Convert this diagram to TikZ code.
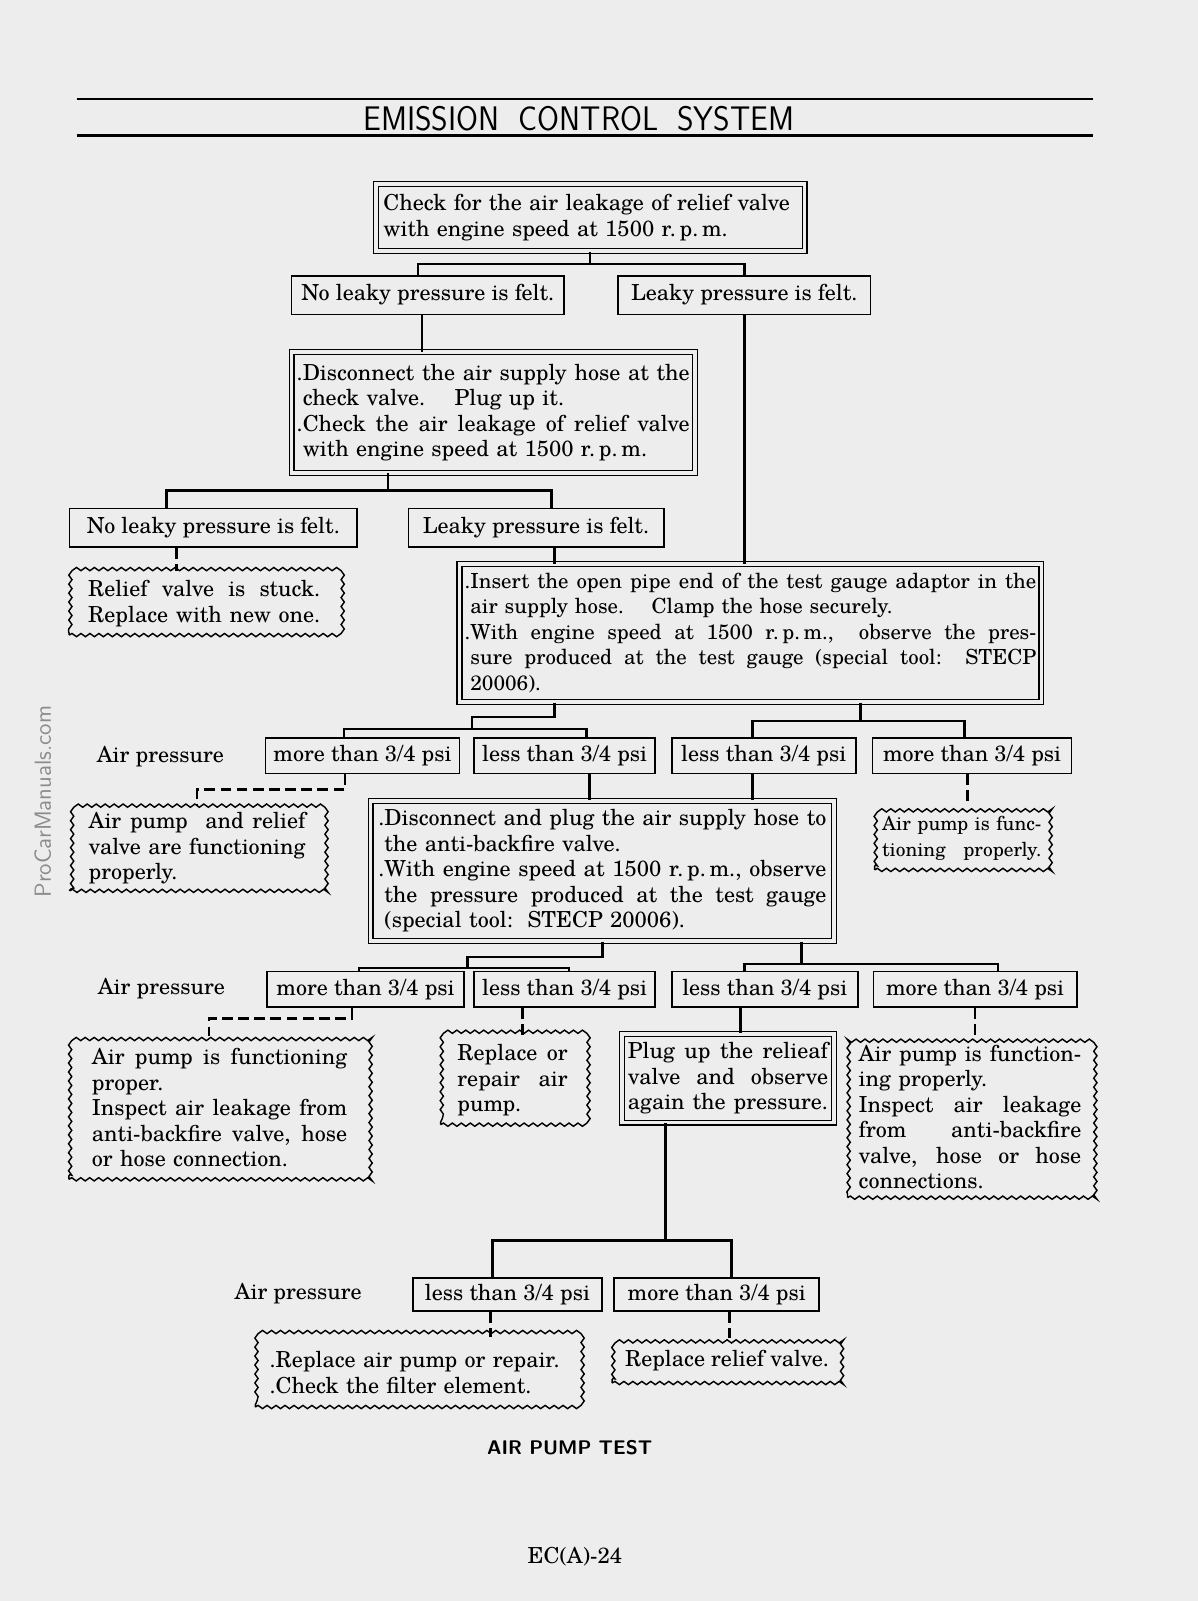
\documentclass[tikz,border=0pt]{standalone}
\usepackage{fontspec}
\setmainfont{TeX Gyre Schola}
\usepackage{graphicx}
\usepackage{tikz}
\usetikzlibrary{decorations.pathmorphing,calc}
\definecolor{paper}{gray}{0.93}
\newcommand\bxfont{\fontsize{12.3}{14.2}\selectfont}
\newlength\jw
\newcommand\jl[1]{\makebox[\jw][s]{\spaceskip=\fontdimen2\font plus 1fil minus \fontdimen4\font\relax#1}}

\begin{document}
\begin{tikzpicture}[x=0.02cm,y={(0,-0.02cm)},
  tw/.style={text width=#1,execute at begin node={\setlength\jw{#1}}},
  box/.style={draw,line width=1pt,inner sep=0pt,font=\bxfont},
  dbox/.style={draw,line width=.7pt,double=paper,double distance=2pt,
               inner xsep=0.15cm,inner ysep=0pt,align=left,font=\bxfont},
  wbox/.style={draw,line width=.8pt,decorate,
               decoration={snake,amplitude=.9pt,segment length=5pt},
               inner ysep=0pt,align=left,font=\bxfont},
  lnk/.style={line width=1.4pt},
  dlnk/.style={line width=1.4pt,dash pattern=on 6pt off 3pt},
  lbl/.style={font=\bxfont}]
%%
\fill[paper] (0,0) rectangle (1173,1568);
\useasboundingbox (0,0) rectangle (1173,1568);
%%
%% Header
\draw[line width=1.6pt] (75,97) -- (1070,97);
\draw[line width=1.6pt] (75,133) -- (1070,133);
\node[font=\sffamily\fontsize{19}{20}\selectfont] (title) at (567,116)
  {\scalebox{0.93}[1]{EMISSION\hspace{0.6em}CONTROL\hspace{0.6em}SYSTEM}};
\node[rotate=90,text=black!45,font=\sffamily\fontsize{13}{15}\selectfont] (wm) at (42,785) {ProCarManuals.com};
%%
%% First check
\node[dbox,tw=8.1cm,minimum height=1.32cm] (chk) at (578,213)
  {Check for the air leakage of relief valve\\with engine speed at 1500 r.\,p.\,m.};
\node[box,minimum width=5.34cm,minimum height=0.76cm] (noleak) at (419,289) {No leaky pressure is felt.};
\node[box,minimum width=4.94cm,minimum height=0.76cm] (leak) at (729,289) {Leaky pressure is felt.};
%%
%% Second check (check valve plugged)
\node[dbox,inner xsep=0.1cm,tw=7.7cm,minimum height=2.36cm] (plug1) at (483,404)
  {\jl{.Disconnect the air supply hose at the}\\\phantom{.}check valve.\quad\ Plug up it.\\
   \jl{.Check the air leakage of relief valve}\\\phantom{.}with engine speed at 1500 r.\,p.\,m.};
\node[box,minimum width=5.64cm,minimum height=0.76cm] (noleak2) at (209,517) {No leaky pressure is felt.};
\node[box,minimum width=5cm,minimum height=0.76cm] (leak2) at (525,517) {Leaky pressure is felt.};
\node[wbox,inner xsep=0.37cm,tw=4.55cm,minimum height=1.24cm] (stuck) at (200,591)
  {\jl{Relief valve is stuck.}\\\jl{Replace with new one.}};
%%
%% Gauge test
\node[dbox,inner xsep=0.1cm,tw=11.2cm,minimum height=2.7cm,
      font=\fontsize{11.6}{14.2}\selectfont] (ins) at (735,620)
  {\jl{.Insert the open pipe end of the test gauge adaptor in the}\\
   \phantom{.}air supply hose.\quad\ Clamp the hose securely.\\
   \jl{.With engine speed at 1500 r.\,p.\,m.,\ \ observe the pres-}\\
   \jl{\phantom{.}sure produced at the test gauge (special tool:\ \ STECP}\\
   \phantom{.}20006).};
%%
%% Row 1
\node[lbl] (ap1) at (157,741) {Air pressure};
\node[box,minimum width=3.8cm,minimum height=0.7cm] (m1) at (355,740) {more than 3/4 psi};
\node[box,minimum width=3.54cm,minimum height=0.7cm] (l1) at (553,740) {less than 3/4 psi};
\node[box,minimum width=3.6cm,minimum height=0.7cm] (l2) at (748,740) {less than 3/4 psi};
\node[box,minimum width=3.9cm,minimum height=0.7cm] (m2) at (952,740) {more than 3/4 psi};
\node[wbox,inner xsep=0.37cm,tw=4.25cm,minimum height=1.66cm] (ok1) at (193,831)
  {\jl{Air pump\ \ and relief}\\\jl{valve are functioning}\\properly.};
\node[dbox,tw=8.78cm,minimum height=2.74cm] (dis) at (590,853)
  {\jl{.Disconnect and plug the air supply hose to}\\\phantom{.}the anti-backfire valve.\\
   \jl{.With engine speed at 1500 r.\,p.\,m.,\ observe}\\
   \jl{\phantom{.}the pressure produced at the test gauge}\\
   \phantom{.}(special tool:\ \ STECP 20006).};
\node[wbox,inner xsep=0.15cm,tw=3.12cm,minimum height=1.24cm,
      font=\fontsize{10.8}{14.2}\selectfont] (ok2) at (942,821)
  {\jl{Air pump is func-}\\\jl{tioning properly.}};
%%
%% Row 2
\node[lbl] (ap2) at (158,968) {Air pressure};
\node[box,minimum width=3.86cm,minimum height=0.7cm] (m3) at (358,969) {more than 3/4 psi};
\node[box,minimum width=3.54cm,minimum height=0.7cm] (l3) at (553,969) {less than 3/4 psi};
\node[box,minimum width=3.64cm,minimum height=0.7cm] (l4) at (749,969) {less than 3/4 psi};
\node[box,minimum width=3.98cm,minimum height=0.7cm] (m4) at (955,969) {more than 3/4 psi};
\node[wbox,inner xsep=0.45cm,tw=5cm,minimum height=2.8cm] (ok3) at (215,1085)
  {\jl{Air\ \ pump\ \ is\ \ functioning}\\proper.\\\jl{Inspect air leakage from}\\
   \jl{anti-backfire valve, hose}\\or hose connection.};
\node[wbox,inner xsep=0.33cm,tw=2.16cm,minimum height=1.74cm] (rep) at (502,1058)
  {\jl{Replace or}\\\jl{repair\ \ air}\\pump.};
\node[dbox,inner xsep=0.12cm,tw=3.92cm,minimum height=1.74cm] (plug2) at (713,1056)
  {\jl{Plug up the relieaf}\\\jl{valve and observe}\\\jl{again the pressure.}};
\node[wbox,inner xsep=0.22cm,tw=4.36cm,minimum height=3.16cm] (ok4) at (950,1094)
  {\jl{Air pump is function-}\\ing properly.\\\jl{Inspect air leakage}\\
   \jl{from anti-backfire}\\\jl{valve, hose or hose}\\connections.};
%%
%% Row 3
\node[lbl] (ap3) at (292,1267) {Air pressure};
\node[box,minimum width=3.7cm,minimum height=0.64cm] (l5) at (497,1268) {less than 3/4 psi};
\node[box,minimum width=4.02cm,minimum height=0.64cm] (m5) at (702,1268) {more than 3/4 psi};
\node[wbox,inner xsep=0.28cm,tw=5.8cm,minimum height=1.36cm] (rpl) at (409,1344)
  {.Replace air pump or repair.\\.Check the filter element.};
\node[wbox,minimum width=4.5cm,minimum height=0.86cm,align=center] (rrv) at (712,1333) {Replace relief valve.};
%%
\node[font=\sffamily\bfseries\fontsize{11}{13}\selectfont] (cap) at (558,1418) {AIR PUMP TEST};
\node[font=\bxfont] (pg) at (563,1525) {EC(A)-24};
%%
%% Connectors: first check
\draw[lnk] (chk.south) -- ++(0,12) coordinate (j0);
\draw[lnk] ([xshift=-0.19cm]noleak.north) |- (j0) -| (leak.north);
\draw[lnk] ([xshift=-0.11cm]noleak.south) -- ([xshift=-0.11cm]noleak.south |- plug1.north);
\draw[lnk] (leak.south) -- (leak.south |- ins.north);
%%
%% Connectors: second check
\draw[lnk] ([xshift=-2.06cm]plug1.south) -- ++(0,17) coordinate (j1);
\draw[lnk] ([xshift=-0.92cm]noleak2.north) |- (j1) -| ([xshift=0.3cm]leak2.north);
\draw[dlnk] ([xshift=-0.72cm]noleak2.south) -- ([xshift=-0.72cm]noleak2.south |- stuck.north);
\draw[lnk] ([xshift=0.36cm]leak2.south) -- ([xshift=0.36cm]leak2.south |- ins.north);
%%
%% Connectors: gauge test -> row 1
\draw[lnk] ([xshift=-3.84cm]ins.south) -- ++(0,14) -| ++(-81,12) coordinate (j2);
\draw[lnk] ([xshift=-0.36cm]m1.north) |- (j2) -| ([xshift=0.43cm]l1.north);
\draw[lnk] ([xshift=2.16cm]ins.south) -- ++(0,18) coordinate (j3);
\draw[lnk] ([xshift=-0.22cm]l2.north) |- (j3) -| ([xshift=-0.15cm]m2.north);
\draw[dlnk] ([xshift=-0.34cm]m1.south) -- ++(0,15) -| (ok1.north);
\draw[lnk] ([xshift=0.49cm]l1.south) -- ([xshift=0.49cm]l1.south |- dis.north);
\draw[lnk] ([xshift=-0.22cm]l2.south) -- ([xshift=-0.22cm]l2.south |- dis.north);
\draw[dlnk] ([xshift=-0.09cm]m2.south) -- ([xshift=-0.09cm]m2.south |- ok2.north);
%%
%% Connectors: row 2
\draw[lnk] (dis.south) -- ++(0,15) -| ++(-132,11) coordinate (j4);
\draw[lnk] ([xshift=-0.13cm]m3.north) |- (j4) -| ([xshift=0.09cm]l3.north);
\draw[lnk] ([xshift=3.9cm]dis.south) -- ++(0,22) coordinate (j5);
\draw[lnk] ([xshift=-0.4cm]l4.north) |- (j5) -| ([xshift=0.45cm]m4.north);
\draw[dlnk] ([xshift=-0.27cm]m3.south) -- ++(0,10) -| ([xshift=-0.21cm]ok3.north);
\draw[dlnk] ([xshift=-0.83cm]l3.south) -- ([xshift=-0.83cm]l3.south |- rep.north);
\draw[lnk] ([xshift=-0.48cm]l4.south) -- ([xshift=-0.48cm]l4.south |- plug2.north);
\draw[dlnk] (m4.south) -- (m4.south |- ok4.north);
%%
%% Connectors: row 3
\draw[lnk] ([xshift=-1.22cm]plug2.south) -- ++(0,115) coordinate (j6);
\draw[lnk] ([xshift=-0.29cm]l5.north) |- (j6) -| ([xshift=0.29cm]m5.north);
\draw[dlnk] ([xshift=-0.33cm]l5.south) -- ([xshift=-0.33cm]l5.south |- rpl.north);
\draw[dlnk] ([xshift=0.25cm]m5.south) -- ([xshift=0.25cm]m5.south |- rrv.north);
\end{tikzpicture}
\end{document}
